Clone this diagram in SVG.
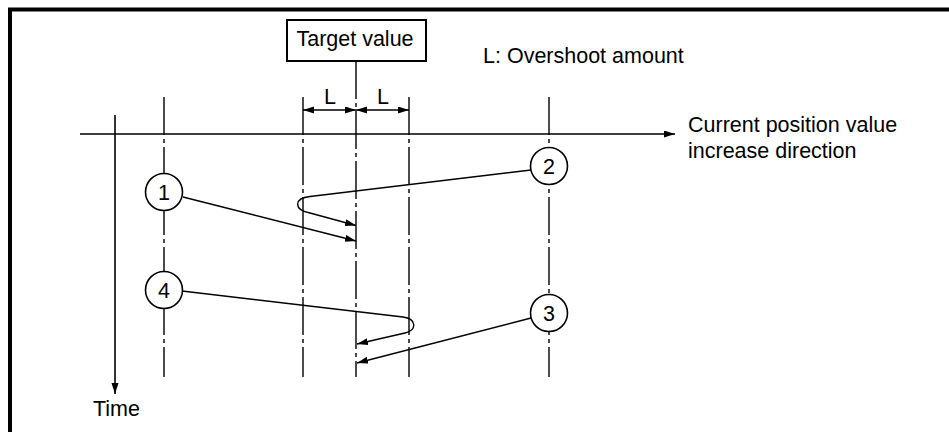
<svg xmlns="http://www.w3.org/2000/svg" width="949" height="432" viewBox="0 0 949 432">
<style>
text{font-family:"Liberation Sans",Arial,sans-serif;font-size:21.5px;fill:#000}
.dd{stroke:#000;stroke-width:1.4;stroke-dasharray:38 4 4 4;fill:none}
.ln{stroke:#000;stroke-width:1.4;fill:none}
.ax{stroke:#000;stroke-width:1.6;fill:none}
.node circle{fill:#fff;stroke:#000;stroke-width:1.6}
.num{text-anchor:middle}
</style>
<defs>
<marker id="ah" markerUnits="userSpaceOnUse" markerWidth="12" markerHeight="8" refX="11" refY="3.5" orient="auto-start-reverse">
<path d="M0,0 L11,3.5 L0,7 z" fill="#000"/>
</marker>
</defs>
<rect width="949" height="432" fill="#fff"/>
<path d="M10,432 V9.5 H949" stroke="#000" stroke-width="4" fill="none"/>
<g id="guides">
<line class="dd" x1="164" y1="97" x2="164" y2="377"/>
<line class="dd" x1="303" y1="97" x2="303" y2="377"/>
<line class="dd" x1="356" y1="61" x2="356" y2="377"/>
<line class="dd" x1="409" y1="97" x2="409" y2="377"/>
<line class="dd" x1="549" y1="97" x2="549" y2="377"/>
</g>
<g id="axes">
<line class="ax" x1="80" y1="134" x2="675" y2="134" marker-end="url(#ah)"/>
<line class="ax" x1="115" y1="115" x2="115" y2="394" marker-end="url(#ah)"/>
<text x="688" y="132">Current position value</text>
<text x="688" y="158">increase direction</text>
<text x="93" y="416">Time</text>
</g>
<g id="target">
<rect x="287" y="20" width="139" height="41" fill="#fff" stroke="#000" stroke-width="2"/>
<text x="355" y="46" text-anchor="middle">Target value</text>
</g>
<g id="legend">
<text x="483" y="63">L: Overshoot amount</text>
</g>
<g id="dimensions">
<line class="ln" x1="303" y1="110" x2="356" y2="110" marker-start="url(#ah)" marker-end="url(#ah)"/>
<line class="ln" x1="356" y1="110" x2="409" y2="110" marker-start="url(#ah)" marker-end="url(#ah)"/>
<text x="330" y="104" text-anchor="middle">L</text>
<text x="383" y="104" text-anchor="middle">L</text>
</g>
<g id="connectors">
<path class="ln" d="M183,197 L356,241" marker-end="url(#ah)"/>
<path class="ln" d="M531,170 L310,196.5 C293,198.5 294,210 310,213 L356,225.5" marker-end="url(#ah)"/>
<path class="ln" d="M531,318 L357,363" marker-end="url(#ah)"/>
<path class="ln" d="M182,291 L403,317 C417,319 417,330 405,333 L357,344" marker-end="url(#ah)"/>
</g>
<g id="n1" class="node"><circle cx="164" cy="192" r="18.5"/><text class="num" x="164" y="199.5">1</text></g>
<g id="n2" class="node"><circle cx="549" cy="166" r="18.5"/><text class="num" x="549" y="173.5">2</text></g>
<g id="n3" class="node"><circle cx="549" cy="313" r="18.5"/><text class="num" x="549" y="320.5">3</text></g>
<g id="n4" class="node"><circle cx="164" cy="290" r="18.5"/><text class="num" x="164" y="297.5">4</text></g>
</svg>
